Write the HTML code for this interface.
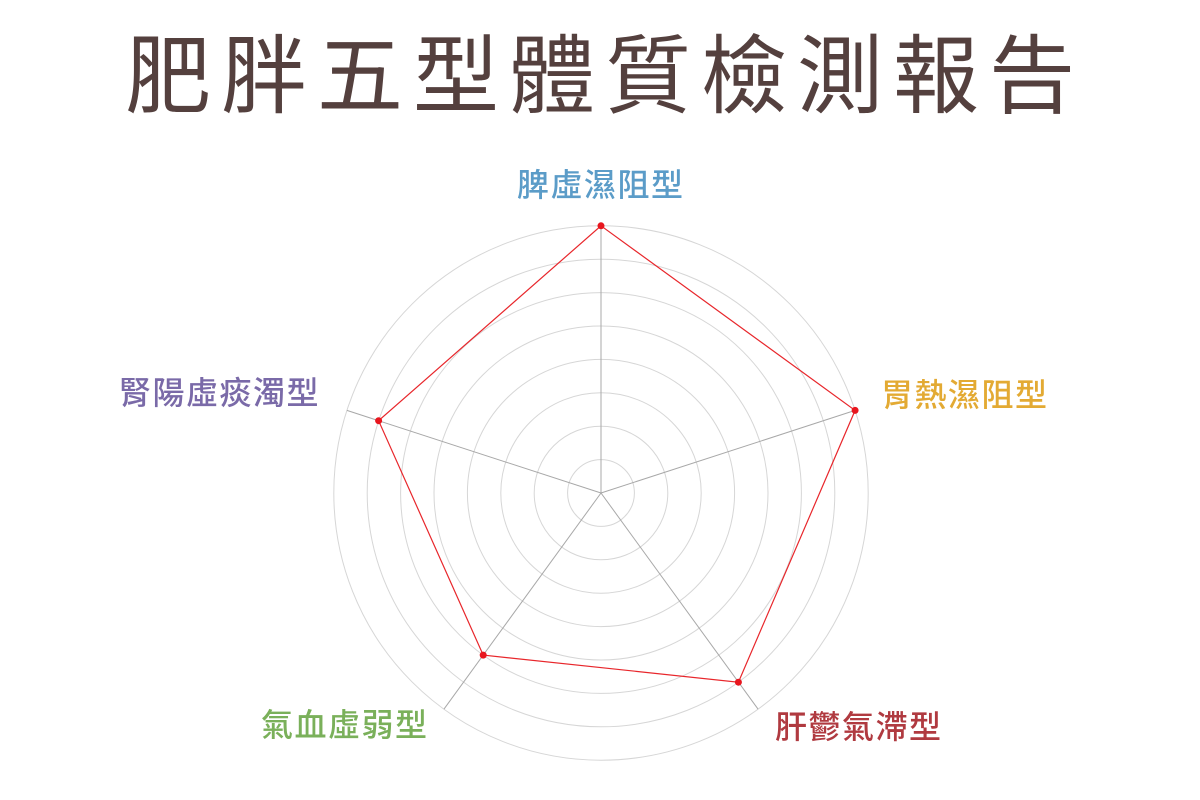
<!DOCTYPE html>
<html><head><meta charset="utf-8"><style>
html,body{margin:0;padding:0;background:#fff;}
body{width:1200px;height:800px;position:relative;overflow:hidden;font-family:"Liberation Sans","Noto Sans CJK TC",sans-serif;}
.t{position:absolute;left:0;top:22px;width:1200px;text-align:center;font-size:86px;color:#54403e;letter-spacing:10px;line-height:110px;padding-left:10px;box-sizing:border-box;}
.l{position:absolute;font-size:32px;line-height:40px;white-space:nowrap;letter-spacing:1.5px;font-weight:500;}
</style></head><body>
<div class="t">肥胖五型體質檢測報告</div>
<svg width="1200" height="800" style="position:absolute;left:0;top:0">
<g fill="none" stroke="#d6d6d6" stroke-width="1">
<circle cx="601" cy="493" r="33.4"/><circle cx="601" cy="493" r="66.8"/><circle cx="601" cy="493" r="100.2"/><circle cx="601" cy="493" r="133.6"/>
<circle cx="601" cy="493" r="167"/><circle cx="601" cy="493" r="200.4"/><circle cx="601" cy="493" r="233.8"/><circle cx="601" cy="493" r="267.2"/>
</g>
<g stroke="#a8a8a8" stroke-width="1">
<line x1="601" y1="493" x2="601" y2="225.8"/>
<line x1="601" y1="493" x2="855.1" y2="410.4"/>
<line x1="601" y1="493" x2="758.1" y2="709.2"/>
<line x1="601" y1="493" x2="443.9" y2="709.2"/>
<line x1="601" y1="493" x2="346.9" y2="410.4"/>
</g>
<polygon points="601,225.8 855.1,410.4 738.4,682.2 483.2,655.1 378.6,420.7" fill="none" stroke="#e8262b" stroke-width="1.2"/>
<g fill="#e8161e">
<circle cx="601" cy="225.8" r="3.5"/><circle cx="855.1" cy="410.4" r="3.5"/><circle cx="738.4" cy="682.2" r="3.5"/><circle cx="483.2" cy="655.1" r="3.5"/><circle cx="378.6" cy="420.7" r="3.5"/>
</g>
</svg>
<div class="l" style="left:517px;top:165px;color:#5b9cc8">脾虛濕阻型</div>
<div class="l" style="left:881px;top:375px;color:#e3aa33">胃熱濕阻型</div>
<div class="l" style="left:119px;top:373px;color:#7a6aa8">腎陽虛痰濁型</div>
<div class="l" style="left:261px;top:705px;color:#7ab05a">氣血虛弱型</div>
<div class="l" style="left:775px;top:707px;color:#b03a40">肝鬱氣滯型</div>
</body></html>
